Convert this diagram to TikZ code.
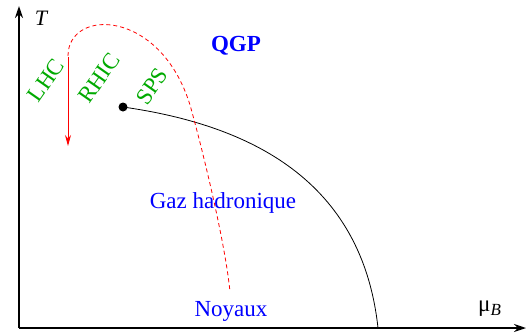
\documentclass[tikz,border=0pt]{standalone}
\usepackage{fontspec}
\setmainfont{Liberation Serif}
\usetikzlibrary{arrows.meta}
\definecolor{lgreen}{RGB}{0,170,0}
\begin{document}
\begin{tikzpicture}[x=1pt,y=-1pt,
  axis/.style={line width=1.5pt,-{Stealth[length=12pt,width=8pt]}},
  lbl/.style={inner sep=0pt,font=\fontsize{23}{26}\selectfont},
  acc/.style={lbl,text=lgreen,rotate=55},
  reg/.style={lbl,text=blue}]
\useasboundingbox (0,0) rectangle (531,333);
\coordinate (O) at (19,328);
\coordinate (Ytop) at (19,6);
\coordinate (Xend) at (526,328);
\draw[axis] (O) -- (Ytop);
\draw[axis] (O) -- (Xend);
\node[lbl,font=\fontsize{22}{24}\selectfont\itshape] (T) at (41,18) {T};
\node[lbl,anchor=base west] (mu) at (478,311) {μ\raisebox{-4pt}{\fontsize{17}{19}\selectfont\itshape B}};
% critical point and transition line
\node[circle,fill=black,inner sep=0pt,minimum size=9pt] (cp) at (123,107) {};
\coordinate (lend) at (378,328);
\draw[line width=0.8pt] (cp.center) .. controls (250,125) and (362,180) .. (lend);
% freeze-out dashed curve
\coordinate (d0) at (68,56);
\coordinate (d1) at (190,105);
\coordinate (d2) at (230,292);
\draw[red,line width=0.8pt,dash pattern=on 4pt off 3pt] (d0) .. controls (68,8) and (160,8) .. (d1) .. controls (200,140) and (225,240) .. (d2);
% LHC arrow
\coordinate (a0) at (68,57);
\coordinate (a1) at (68,146);
\draw[red,line width=1pt,-{Stealth[length=11pt,width=6pt]}] (a0) -- (a1);
% labels
\node[acc] (lhc) at (46,80) {LHC};
\node[acc] (rhic) at (99,78) {RHIC};
\node[acc] (sps) at (152,86) {SPS};
\node[reg,font=\fontsize{23}{26}\selectfont\bfseries] (qgp) at (236,46) {QGP};
\node[reg] (gaz) at (223,203) {Gaz hadronique};
\node[reg] (noy) at (231,311) {Noyaux};
\end{tikzpicture}
\end{document}
